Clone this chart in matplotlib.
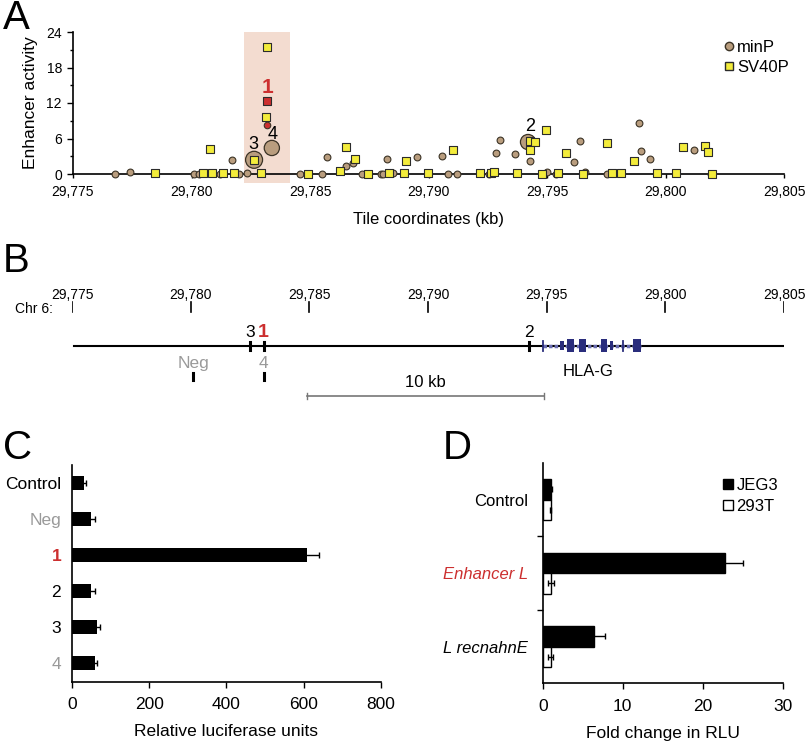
import numpy as np
import matplotlib
matplotlib.use("Agg")
import matplotlib.pyplot as plt
from matplotlib.patches import Rectangle, Patch
from matplotlib.lines import Line2D

plt.rcParams['font.family'] = ['Liberation Sans', 'DejaVu Sans']

W, H = 806, 744

TAN = '#b99d7e'
YEL = '#f3ec3b'
RED = '#cc2f2f'
GRAY = '#9a9a9a'
NAVY = '#2a2d7c'
SHADE = '#f3dcd0'

# ---- panel A: tiled enhancer screen
minp_kb = [29776.76, 29777.4, 29780.1, 29780.3, 29781.2, 29781.7, 29782.0, 29782.36,
           29784.58, 29784.86, 29785.5, 29785.7, 29786.5, 29786.83, 29787.18, 29788.0,
           29788.06, 29788.23, 29788.5, 29789.5, 29790.56, 29790.83, 29791.22, 29792.54,
           29792.85, 29793.02, 29793.64, 29794.3, 29795.0, 29795.37, 29796.15, 29796.39,
           29796.62, 29797.52, 29798.89, 29798.96, 29799.33, 29801.22, 29801.9]
minp_act = [0, 0.3, 0, 0, 0, 2.3, 0, 0.2,
            0, 0, 0, 2.9, 1.3, 1.9, 0, 0,
            0, 2.5, 0.2, 2.9, 3.1, 0, 0, 0,
            3.5, 5.8, 3.4, 2.25, 0.3, 0, 2.0, 5.6,
            0.3, 0, 8.55, 3.9, 2.5, 4.0, 0]
sv40_kb = [29778.44, 29780.5, 29780.86, 29781.35, 29781.8, 29782.94, 29780.8, 29782.64,
           29783.13, 29783.2, 29784.9, 29786.28, 29786.53, 29786.9, 29787.46, 29788.35,
           29788.96, 29789.03, 29789.99, 29791.04, 29792.19, 29792.63, 29792.77, 29793.75,
           29794.29, 29794.5, 29794.3, 29794.8, 29794.97, 29795.48, 29795.8, 29796.52,
           29797.55, 29797.76, 29798.12, 29798.68, 29799.65, 29800.44, 29800.75, 29801.66,
           29801.8, 29801.98]
sv40_act = [0.2, 0.2, 0.2, 0.1, 0.1, 0.2, 4.2, 2.4,
            9.7, 21.5, 0, 0.5, 4.6, 2.5, 0, 0.1,
            0.1, 2.2, 0.2, 4.05, 0.2, 0.1, 0.3, 0.1,
            5.6, 5.4, 4.05, 0, 7.5, 0.2, 3.5, 0,
            5.3, 0.1, 0.1, 2.2, 0.1, 0.1, 4.5, 4.7,
            3.8, 0]
red_sq_kb, red_sq_act = 29783.19, 12.4
red_ci_kb, red_ci_act = 29783.19, 8.3
big_kb = [29782.64, 29783.39, 29794.2]
big_act = [2.4, 4.4, 5.4]
big_size = [150, 120, 120]
ann_text = ['1', '3', '4', '2']
ann_kb = [29783.19, 29782.61, 29783.42, 29794.3]
ann_y = [14.6, 5.0, 6.6, 8.0]
shade_kb = (29782.2, 29784.15)

# ---- panel B: locus map
coord_ticks = [29775, 29780, 29785, 29790, 29795, 29800, 29805]
top_names = ['3', '1', '2']
top_kb = [29782.5, 29783.07, 29794.27]
low_names = ['Neg', '4']
low_kb = [29780.1, 29783.07]
scale_kb = (29784.9, 29794.9)
gene_span = (29794.85, 29798.98)
gene_exons = [(29795.58, 29795.75), (29795.86, 29796.17), (29796.38, 29796.66),
              (29797.27, 29797.55), (29797.65, 29797.78), (29798.62, 29798.98)]
gene_marks = [29794.85, 29798.22]

# ---- panel C: luciferase
c_labels = ['Control', 'Neg', '1', '2', '3', '4']
c_vals = [30, 48, 608, 48, 65, 58]
c_err = [6, 12, 33, 12, 7, 7]
c_colors = ['black', GRAY, RED, 'black', 'black', GRAY]

# ---- panel D: fold change
d_groups = ['Control', 'Enhancer L', 'L recnahnE']
d_colors = ['black', RED, 'black']
jeg3 = [1.0, 22.8, 6.4]
jeg3_err = [0.1, 2.2, 1.4]
t293 = [1.0, 1.0, 1.0]
t293_err = [0.05, 0.35, 0.3]


def px_axes(fig, l, t, r, b):
    return fig.add_axes([l / W, 1 - b / H, (r - l) / W, (b - t) / H])


fig = plt.figure(figsize=(W / 100, H / 100), dpi=100)

# ================= A
axa = px_axes(fig, 73, 32, 784, 174)
axa.add_patch(Rectangle((shade_kb[0], -1.5), shade_kb[1] - shade_kb[0], 25.5,
                        color=SHADE, zorder=0, clip_on=False, lw=0))
axa.scatter(minp_kb, minp_act, s=24, marker='o', facecolor=TAN, edgecolor='#3b3326',
            lw=0.8, zorder=3, clip_on=False)
axa.scatter(big_kb, big_act, s=big_size, marker='o', facecolor=TAN, edgecolor='#3b3326',
            lw=0.9, zorder=3, clip_on=False)
axa.scatter(sv40_kb, sv40_act, s=26, marker='s', facecolor=YEL, edgecolor='#2b2b2b',
            lw=0.8, zorder=4, clip_on=False)
axa.scatter([red_sq_kb], [red_sq_act], s=26, marker='s', facecolor=RED, edgecolor='#2b2b2b',
            lw=0.8, zorder=4)
axa.scatter([red_ci_kb], [red_ci_act], s=22, marker='o', facecolor=RED, edgecolor='#3b3326',
            lw=0.8, zorder=4)
for t, x, y in zip(ann_text, ann_kb, ann_y):
    if t == '1':
        axa.text(x, y, t, color=RED, fontsize=15, fontweight='bold', ha='center', va='center')
    else:
        axa.text(x, y, t, fontsize=13, ha='center', va='center')
axa.set_xlim(29775, 29805)
axa.set_ylim(0, 24)
axa.set_xticks(coord_ticks)
axa.set_xticklabels([f"{k:,}" for k in coord_ticks])
axa.set_yticks([0, 6, 12, 18, 24])
axa.set_yticks([3, 9, 15, 21], minor=True)
for s in ['top', 'right']:
    axa.spines[s].set_visible(False)
axa.spines['left'].set_linewidth(1.2)
axa.spines['bottom'].set_linewidth(1.2)
axa.tick_params(axis='x', length=3, width=1, pad=5, labelsize=10)
axa.tick_params(axis='y', length=4, width=1, pad=4, labelsize=10)
axa.tick_params(axis='y', which='minor', length=2.5, width=1)
axa.set_xlabel('Tile coordinates (kb)', fontsize=12, labelpad=9)
axa.set_ylabel('Enhancer activity', fontsize=12.5, labelpad=6)
leg_a = [Line2D([], [], marker='o', ls='', markersize=6, markerfacecolor=TAN,
                markeredgecolor='#3b3326', label='minP'),
         Line2D([], [], marker='s', ls='', markersize=6, markerfacecolor=YEL,
                markeredgecolor='#2b2b2b', label='SV40P')]
axa.legend(handles=leg_a, loc='upper left', bbox_to_anchor=(724 / W, 1 - 40 / H),
           bbox_transform=fig.transFigure, frameon=False, fontsize=12,
           handlelength=0.6, handletextpad=0.2, borderaxespad=0, borderpad=0,
           labelspacing=0.3)

# ================= B
axb = px_axes(fig, 72, 280, 784, 410)
axb.set_xlim(29775, 29805)
axb.set_ylim(410, 280)
axb.axis('off')
for k in coord_ticks:
    axb.plot([k, k], [302, 312], color='black', lw=1.2)
    axb.text(k, 295, f"{k:,}", ha='center', va='center', fontsize=10)
fig.text(15 / W, 1 - 309 / H, 'Chr 6:', va='center', fontsize=10)
axb.plot([29775.1, 29805], [346, 346], color='black', lw=1.5, zorder=1)
for name, k in zip(top_names, top_kb):
    axb.plot([k, k], [342, 350], color='black', lw=2.2, zorder=2)
    if name == '1':
        axb.text(k, 333, name, color=RED, fontsize=14, fontweight='bold', ha='center', va='center')
    else:
        axb.text(k, 333, name, fontsize=12.5, ha='center', va='center')
for name, k in zip(low_names, low_kb):
    axb.plot([k, k], [373, 380], color='black', lw=2.2)
    axb.text(k, 364, name, color=GRAY, fontsize=12.5, ha='center', va='center')
axb.plot(scale_kb, [396, 396], color='#777777', lw=1.2)
for k in scale_kb:
    axb.plot([k, k], [393, 399], color='#777777', lw=1)
axb.text(sum(scale_kb) / 2, 383, '10 kb', fontsize=12, ha='center', va='center')
axb.plot(gene_span, [346, 346], color='#6a6db0', lw=2.5, ls=(0, (1, 0.6)), zorder=2)
for st, en in gene_exons:
    h = 9 if en - st < 0.2 else 13
    axb.add_patch(Rectangle((st, 346 - h / 2), en - st, h, color=NAVY, lw=0, zorder=3))
for k in gene_marks:
    axb.plot([k, k], [341, 351], color=NAVY, lw=1.3, zorder=3)
axb.text(29796.76, 372, 'HLA-G', fontsize=12, ha='center', va='center')

# ================= C
axc = px_axes(fig, 72.3, 465, 380.7, 681.7)
yc = np.arange(len(c_labels))
axc.barh(yc, c_vals, height=0.39, color='black', xerr=c_err,
         error_kw=dict(ecolor='black', capsize=2, elinewidth=1, capthick=1))
axc.set_xlim(0, 800)
axc.set_ylim(len(c_labels) - 0.49, -0.51)
axc.set_yticks(yc)
axc.set_yticklabels(c_labels, fontsize=12.5)
for lab, col in zip(axc.get_yticklabels(), c_colors):
    lab.set_color(col)
    if lab.get_text() == '1':
        lab.set_fontweight('bold')
axc.set_xticks([0, 200, 400, 600, 800])
axc.tick_params(axis='y', length=0, pad=8)
axc.tick_params(axis='x', length=4, width=1, labelsize=12.5, pad=7)
for s in ['top', 'right']:
    axc.spines[s].set_visible(False)
axc.spines['left'].set_linewidth(1.2)
axc.spines['bottom'].set_linewidth(1.2)
axc.set_xlabel('Relative luciferase units', fontsize=12.5, labelpad=9)

# ================= D
axd = px_axes(fig, 542.7, 463, 782.7, 683.3)
yd = np.arange(len(d_groups))
bh = 0.28
ekw = dict(ecolor='black', capsize=2, elinewidth=1, capthick=1)
axd.barh(yd - bh / 2, jeg3, height=bh, color='black', edgecolor='black', lw=1,
         xerr=jeg3_err, error_kw=ekw, label='JEG3')
axd.barh(yd + bh / 2, t293, height=bh, color='white', edgecolor='black', lw=1,
         xerr=t293_err, error_kw=ekw, label='293T')
axd.set_xlim(0, 30)
axd.set_ylim(len(d_groups) - 0.5, -0.5)
axd.set_yticks(yd)
axd.set_yticklabels(d_groups, fontsize=12)
for lab, col in zip(axd.get_yticklabels(), d_colors):
    lab.set_color(col)
    if lab.get_text() != 'Control':
        lab.set_fontstyle('italic')
axd.set_yticks([0.5, 1.5], minor=True)
axd.tick_params(axis='y', which='major', length=0, pad=10.5)
axd.tick_params(axis='y', which='minor', length=4, width=1)
axd.set_xticks([0, 10, 20, 30])
axd.tick_params(axis='x', length=4, width=1, labelsize=12.5, pad=7)
for s in ['top', 'right']:
    axd.spines[s].set_visible(False)
axd.spines['left'].set_linewidth(1.2)
axd.spines['bottom'].set_linewidth(1.2)
axd.set_xlabel('Fold change in RLU', fontsize=12.5, labelpad=9)
leg_d = [Patch(facecolor='black', edgecolor='black', label='JEG3'),
         Patch(facecolor='white', edgecolor='black', label='293T')]
axd.legend(handles=leg_d, loc='upper left', bbox_to_anchor=(723 / W, 1 - 478 / H),
           bbox_transform=fig.transFigure, frameon=False, fontsize=12,
           handlelength=0.6, handleheight=0.6, handletextpad=0.2, borderaxespad=0,
           borderpad=0, labelspacing=0.35)

# panel letters
for letter, x, y in [('A', 3, 18), ('B', 3, 261), ('C', 3, 448), ('D', 443, 448)]:
    fig.text(x / W, 1 - y / H, letter, fontsize=29, va='center', ha='left')

fig.savefig('out.png', dpi=100)
